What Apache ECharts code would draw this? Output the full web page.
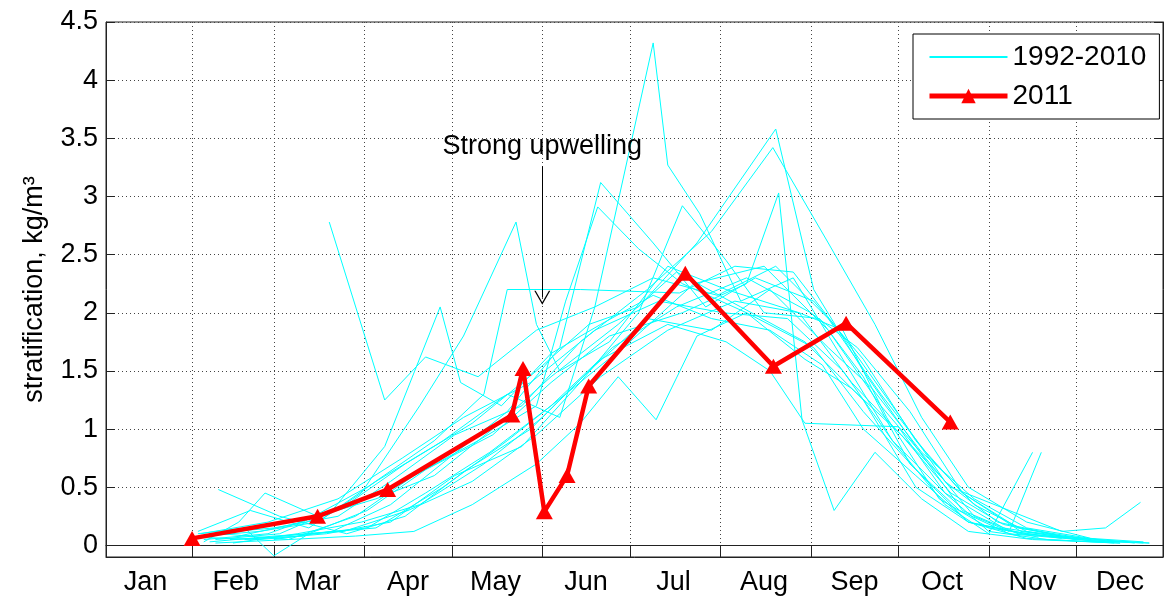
<!DOCTYPE html>
<html>
<head>
  <meta charset="UTF-8">
  <title>stratification</title>
  <style>
    html, body {
      margin: 0;
      padding: 0;
      background: #fff;
    }
    #main { width: 1166px; height: 601px; }
  </style>
  <script src="https://cdn.jsdelivr.net/npm/echarts@6/dist/echarts.min.js"></script>
</head>
<body>
<div id="main"></div>
<script>
  // x is day of year (Jan 1 = 1); gridlines at month starts, labels on the 16th
  var monthNames = ['Jan', 'Feb', 'Mar', 'Apr', 'May', 'Jun', 'Jul', 'Aug', 'Sep', 'Oct', 'Nov', 'Dec'];
  var monthStarts = [1, 32, 60, 91, 121, 152, 182, 213, 244, 274, 305, 335];
  var labelDays = monthStarts.map(function (d) { return d + 15; });
  var yTicks = [0, 0.5, 1, 1.5, 2, 2.5, 3, 3.5, 4, 4.5];

  // 2011 survey
  var days2011 = [32, 75, 99, 141.6, 145.4, 152.7, 160.5, 167.9, 201, 231.2, 256.1, 291.8];
  var vals2011 = [0.06, 0.25, 0.48, 1.12, 1.52, 0.29, 0.6, 1.37, 2.34, 1.54, 1.91, 1.06];

  // 1992-2010, [day, value]
  var line01 = [[79, 2.78], [98, 1.25], [112, 1.62], [130, 1.45], [150, 1.85], [170, 2.05], [190, 2.3], [212, 2.15], [232, 2.4], [250, 1.95], [268, 1.3], [285, 0.75], [300, 0.35], [318, 0.12], [340, 0.05]];
  var line02 = [[36, 0.08], [55, 0.12], [75, 0.2], [95, 0.55], [118, 0.9], [140, 1.3], [158, 1.1], [170, 2.05], [190, 4.32], [195, 3.27], [206, 2.85], [220, 2.1], [238, 2.3], [255, 1.6], [272, 0.9], [290, 0.45], [310, 0.15], [335, 0.05]];
  var line03 = [[40, 0.05], [62, 0.1], [85, 0.35], [105, 0.7], [128, 1.05], [150, 1.5], [168, 1.9], [185, 2.05], [205, 2.6], [232, 3.58], [245, 2.2], [262, 1.5], [280, 0.85], [296, 0.3], [315, 0.1], [345, 0.04]];
  var line04 = [[38, 0.1], [60, 0.15], [82, 0.25], [100, 0.55], [122, 0.95], [145, 1.2], [165, 1.75], [188, 2.2], [210, 2.7], [231, 3.42], [250, 2.6], [266, 1.9], [282, 1.1], [298, 0.5], [318, 0.2], [340, 0.06], [358, 0.03]];
  var line05 = [[45, 0.05], [70, 0.08], [92, 0.3], [112, 0.65], [135, 0.95], [155, 1.4], [175, 1.8], [200, 2.0], [222, 2.25], [233, 3.03], [241, 1.08], [252, 0.3], [266, 0.8], [282, 0.4], [298, 0.12], [320, 0.05], [350, 0.02]];
  var line06 = [[34, 0.12], [52, 0.3], [72, 0.15], [90, 0.45], [110, 1.2], [125, 1.8], [143, 2.78], [150, 1.9], [158, 1.5], [175, 1.75], [195, 2.4], [215, 2.2], [240, 2.0], [255, 1.85], [270, 1.1], [288, 0.4], [305, 0.15], [330, 0.06]];
  var line07 = [[36, 0.05], [58, 0.1], [80, 0.3], [98, 0.85], [117, 2.05], [124, 1.4], [138, 1.2], [155, 1.65], [172, 1.9], [190, 2.15], [210, 1.95], [230, 1.85], [248, 1.55], [262, 1.0], [280, 0.6], [298, 0.2], [322, 0.07]];
  var line08 = [[48, 0.08], [70, 0.2], [92, 0.5], [115, 0.9], [132, 1.3], [140, 2.2], [165, 2.2], [199, 2.17], [218, 2.4], [238, 2.35], [255, 1.8], [272, 1.2], [290, 0.55], [308, 0.2], [330, 0.08], [355, 0.02]];
  var line09 = [[60, 0.05], [80, 0.12], [100, 0.35], [120, 0.75], [140, 1.15], [158, 1.7], [172, 3.12], [190, 2.6], [208, 2.05], [225, 2.3], [245, 2.1], [262, 1.6], [280, 0.9], [296, 0.45], [315, 0.15], [340, 0.05]];
  var line10 = [[42, 0.1], [65, 0.05], [88, 0.25], [108, 0.6], [130, 0.9], [150, 1.2], [160, 2.1], [171, 2.91], [185, 2.55], [200, 2.25], [222, 2.0], [242, 1.6], [258, 1.35], [275, 0.95], [292, 0.45], [310, 0.18], [335, 0.05]];
  var line11 = [[33, 0.07], [55, 0.05], [78, 0.1], [100, 0.2], [122, 0.6], [145, 0.85], [165, 1.4], [185, 2.0], [200, 2.92], [215, 2.45], [228, 2.0], [247, 1.95], [262, 1.45], [278, 0.7], [295, 0.3], [312, 0.1], [345, 0.03]];
  var line12 = [[46, 0.02], [68, 0.1], [90, 0.2], [110, 0.35], [132, 0.7], [152, 1.1], [172, 1.6], [195, 1.9], [215, 1.75], [230, 1.5], [242, 1.05], [274, 1.02], [290, 0.45], [305, 0.12], [325, 0.05], [350, 0.02]];
  var line13 = [[35, 0.1], [58, 0.2], [82, 0.4], [104, 0.75], [125, 1.1], [148, 1.4], [170, 1.85], [192, 2.1], [214, 2.0], [236, 1.95], [255, 1.5], [272, 0.9], [290, 0.35], [305, 0.1], [320, 0.8]];
  var line14 = [[50, 0.05], [72, 0.1], [95, 0.15], [118, 0.5], [140, 0.9], [160, 1.3], [182, 1.75], [204, 2.25], [228, 2.4], [250, 1.85], [268, 1.2], [285, 0.7], [300, 0.25], [312, 0.12], [323, 0.8]];
  var line15 = [[38, 0.03], [60, 0.08], [84, 0.12], [106, 0.3], [128, 0.55], [150, 0.95], [172, 1.45], [195, 1.85], [218, 2.1], [240, 2.0], [258, 1.4], [275, 0.95], [292, 0.5], [312, 0.3], [330, 0.12], [345, 0.15], [357, 0.37]];
  var line16 = [[41, 0.48], [62, 0.25], [85, 0.1], [105, 0.25], [126, 0.65], [148, 1.0], [168, 1.5], [188, 1.95], [210, 1.85], [230, 2.2], [250, 1.7], [265, 1.35], [282, 0.8], [300, 0.4], [318, 0.15], [342, 0.05], [360, 0.02]];
  var line17 = [[36, 0.03], [48, 0.2], [57, 0.45], [75, 0.25], [95, 0.4], [115, 0.6], [135, 1.0], [155, 1.45], [178, 1.9], [198, 2.35], [220, 2.05], [242, 1.75], [262, 1.25], [280, 0.5], [298, 0.2], [318, 0.06], [348, 0.02]];
  var line18 = [[34, 0.1], [50, 0.15], [60, -0.09], [72, 0.1], [92, 0.15], [112, 0.45], [134, 0.8], [155, 1.2], [176, 1.7], [198, 2.05], [222, 2.3], [244, 2.0], [260, 1.7], [278, 1.15], [296, 0.45], [316, 0.12], [340, 0.04], [360, 0.02]];
  var line19 = [[40, 0.02], [65, 0.05], [88, 0.08], [108, 0.12], [128, 0.35], [150, 0.7], [165, 1.05], [178, 1.45], [191, 1.08], [205, 1.8], [222, 2.0], [245, 1.7], [262, 1.15], [280, 0.65], [298, 0.2], [318, 0.1], [340, 0.04], [358, 0.02]];
  var pastYears = [line01, line02, line03, line04, line05, line06, line07, line08, line09, line10,
    line11, line12, line13, line14, line15, line16, line17, line18, line19];

  var font = 'Liberation Sans';
  var fs = 27;
  var axisColor = '#222';
  var gridLine = { show: true, lineStyle: { color: '#444', width: 1, type: [1, 3] } };
  // open arrow head for the annotation
  var chevron = 'path://M8,0 L16,14 L14.6,14 L8,2.3 L1.4,14 L0,14 Z';

  var chartDom = document.getElementById('main');
  var myChart = echarts.init(chartDom);

  var series = pastYears.map(function (pts) {
    return {
      name: '1992-2010',
      type: 'line',
      data: pts,
      symbol: 'none',
      showSymbol: false,
      lineStyle: { color: '#00ffff', width: 1 },
      itemStyle: { color: '#00ffff' },
      emphasis: { disabled: true },
      z: 2
    };
  });

  series.push({
    name: '2011',
    type: 'line',
    data: days2011.map(function (d, i) { return [d, vals2011[i]]; }),
    symbol: 'triangle',
    symbolSize: [17, 15],
    itemStyle: { color: '#ff0000' },
    lineStyle: { color: '#ff0000', width: 4.5 },
    emphasis: { disabled: true },
    z: 5,
    markLine: {
      silent: true,
      animation: false,
      symbol: ['none', chevron],
      symbolSize: [16, 14],
      lineStyle: { color: '#000', width: 1, type: 'solid' },
      itemStyle: { color: '#000' },
      label: {
        show: true,
        position: 'start',
        formatter: 'Strong upwelling',
        color: '#000',
        fontFamily: font,
        fontSize: fs,
        distance: 6
      },
      data: [[{ coord: [152, 3.26] }, { coord: [152, 2.13] }]]
    }
  });

  var option = {
    animation: false,
    backgroundColor: '#fff',
    textStyle: { fontFamily: font },
    grid: {
      left: 106, right: 3, top: 22, bottom: 44,
      show: true, borderColor: axisColor, borderWidth: 1
    },
    legend: {
      data: [
        { name: '1992-2010', itemStyle: { opacity: 0 } },
        { name: '2011', lineStyle: { width: 5 } }
      ],
      orient: 'vertical',
      left: 913,
      top: 34,
      padding: [9, 13, 9, 14],
      itemGap: 11,
      itemWidth: 78,
      itemHeight: 18,
      backgroundColor: '#fff',
      borderColor: '#000',
      borderWidth: 1,
      borderRadius: 0,
      textStyle: { fontFamily: font, fontSize: 28, color: '#000' }
    },
    xAxis: [{
      type: 'value',
      min: 2.5,
      max: 364.7,
      position: 'bottom',
      axisLine: { show: true, onZero: false, lineStyle: { color: axisColor } },
      axisTick: { show: true, inside: true, length: 9, customValues: monthStarts, lineStyle: { color: axisColor } },
      axisLabel: {
        customValues: labelDays,
        formatter: function (v) { return monthNames[labelDays.indexOf(v)]; },
        fontFamily: font, fontSize: fs, color: '#000', margin: 12
      },
      splitLine: gridLine
    }, {
      type: 'value',
      min: 2.5,
      max: 364.7,
      position: 'top',
      axisLine: { show: true, lineStyle: { color: axisColor } },
      axisTick: { show: true, inside: true, length: 9, customValues: monthStarts, lineStyle: { color: axisColor } },
      axisLabel: { show: false },
      splitLine: { show: false }
    }],
    yAxis: [{
      type: 'value',
      min: -0.1,
      max: 4.5,
      position: 'left',
      name: 'stratification, kg/m\u00b3',
      nameLocation: 'middle',
      nameGap: 58,
      nameTextStyle: { fontFamily: font, fontSize: fs, color: '#000' },
      axisLine: { show: true, onZero: false, lineStyle: { color: axisColor } },
      axisTick: { show: true, inside: true, length: 9, customValues: yTicks, lineStyle: { color: axisColor } },
      axisLabel: { customValues: yTicks, fontFamily: font, fontSize: fs, color: '#000', margin: 8 },
      splitLine: gridLine
    }, {
      type: 'value',
      min: -0.1,
      max: 4.5,
      position: 'right',
      axisLine: { show: true, lineStyle: { color: axisColor } },
      axisTick: { show: true, inside: true, length: 9, customValues: yTicks, lineStyle: { color: axisColor } },
      axisLabel: { show: false },
      splitLine: { show: false }
    }],
    series: series
  };

  myChart.setOption(option);
</script>
</body>
</html>
